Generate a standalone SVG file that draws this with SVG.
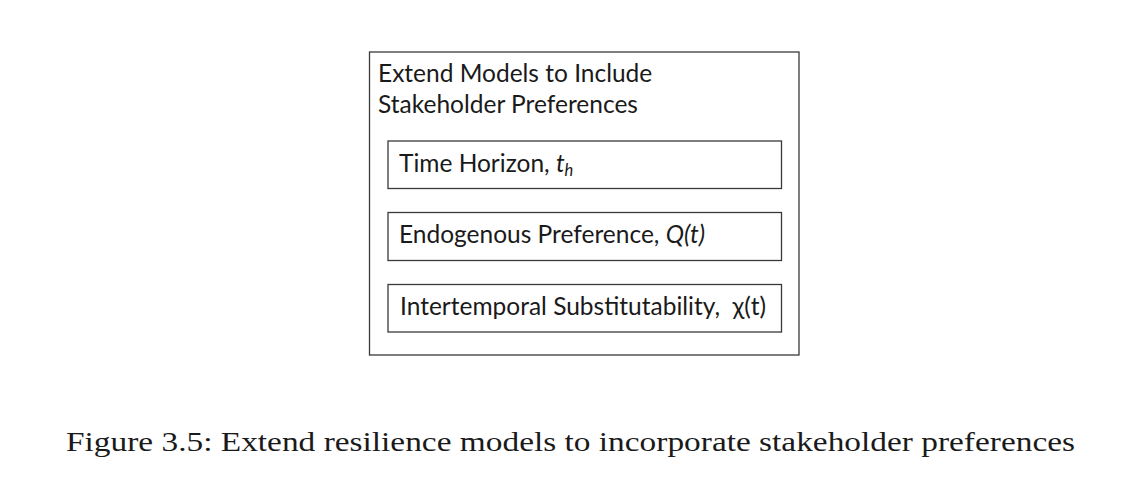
<svg xmlns="http://www.w3.org/2000/svg" width="1130" height="495" viewBox="0 0 1130 495">
<style>
.box{fill:#fff;stroke:#3a3a3a;stroke-width:1.3}
.t{font-family:Lato,"Noto Sans",sans-serif;font-size:24.5px;fill:#1a1a1a}
.cap{font-family:"Liberation Serif","DejaVu Serif",serif;font-size:28px;fill:#1a1a1a}
</style>
<rect width="1130" height="495" fill="#fff"/>
<g id="outer">
<rect class="box" x="369.5" y="52" width="429.5" height="303"/>
<text class="t" x="378" y="82">Extend Models to Include</text>
<text class="t" x="378" y="113">Stakeholder Preferences</text>
</g>
<g id="time-horizon">
<rect class="box" x="388" y="141" width="393.5" height="47.5"/>
<text class="t" x="399" y="171.5">Time Horizon, <tspan font-style="italic">t</tspan><tspan font-style="italic" font-size="16.5" dy="4">h</tspan></text>
</g>
<g id="endogenous">
<rect class="box" x="388" y="212.5" width="393.5" height="48"/>
<text class="t" x="399" y="242.5">Endogenous Preference, <tspan font-style="italic">Q(t)</tspan></text>
</g>
<g id="intertemporal">
<rect class="box" x="388" y="284.5" width="393.5" height="47.5"/>
<text class="t" x="400" y="315" xml:space="preserve">Intertemporal Substitutability,  χ(t)</text>
</g>
<g id="connectors"/>
<text class="cap" x="66" y="451" textLength="1009" lengthAdjust="spacingAndGlyphs">Figure 3.5: Extend resilience models to incorporate stakeholder preferences</text>
</svg>
